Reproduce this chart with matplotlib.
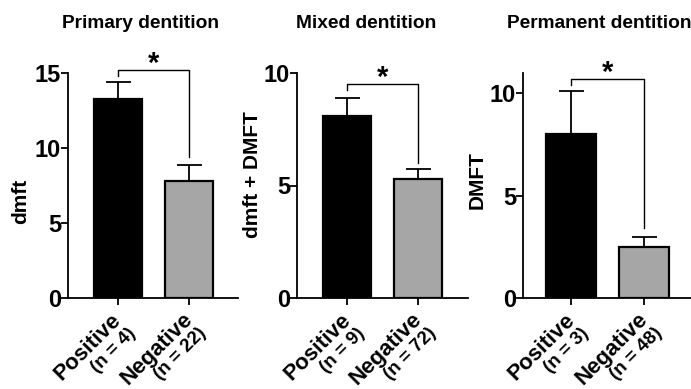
import numpy as np
import matplotlib
matplotlib.use('Agg')
import matplotlib.pyplot as plt
import matplotlib.transforms as mtransforms

plt.rcParams['font.family'] = ['Liberation Sans', 'DejaVu Sans']
plt.rcParams['font.weight'] = 'bold'

titles = ['Primary dentition', 'Mixed dentition', 'Permanent dentition']
ylabels = ['dmft', 'dmft + DMFT', 'DMFT']
groups = ['Positive', 'Negative']
n_pos = [4, 9, 3]
n_neg = [22, 72, 48]
means = [[13.3, 7.8], [8.1, 5.3], [8.0, 2.5]]
sems = [[1.1, 1.1], [0.8, 0.45], [2.1, 0.5]]
ymax = [15, 10, 11]
yticks = [[0, 5, 10, 15], [0, 5, 10], [0, 5, 10]]
# significance bracket: height, left leg end, right leg end
brackets = [[15.2, 14.8, 9.4], [9.5, 9.25, 6.0], [10.7, 10.4, 3.4]]

W, H = 691, 389
fig = plt.figure(figsize=(W / 100, H / 100), dpi=100)

# axes boxes in pixels (left, right), same vertical extent
boxes = [(68, 238), (297, 468), (523, 691)]
xlims = [(-0.70, 1.69), (-0.70, 1.70), (-0.66, 1.64)]
title_x = [140, 366, 599]
ylabel_pos = [(21, 201), (252, 175), (477, 180)]
bottom_px, top_px = 298, 73

for i in range(3):
    l, r = boxes[i]
    ax = fig.add_axes([l / W, 1 - bottom_px / H, (r - l) / W, (bottom_px - top_px) / H])
    x = np.arange(2)
    ax.bar(x, means[i], width=0.68, color=['black', '#a6a6a6'],
           edgecolor='black', linewidth=1.6, zorder=2)
    ax.errorbar(x, means[i], yerr=[[0, 0], sems[i]], fmt='none',
                ecolor='black', elinewidth=1.3, capsize=9, capthick=1.3, zorder=1)
    ax.set_xlim(*xlims[i])
    ax.set_ylim(0, ymax[i])
    ax.set_yticks(yticks[i])
    ax.tick_params(axis='y', labelsize=17, width=1.3, length=5, pad=0)
    ax.tick_params(axis='x', width=1.3, length=5)
    ax.set_xticks(x)
    ax.set_xticklabels([])
    for s in ['top', 'right']:
        ax.spines[s].set_visible(False)
    for s in ['left', 'bottom']:
        ax.spines[s].set_linewidth(1.3)

    # bracket + star
    bh, b0, b1 = brackets[i]
    ax.plot([0, 0, 1, 1], [b0, bh, bh, b1], color='black', lw=1.0,
            clip_on=False, zorder=3)
    tstar = ax.transData + mtransforms.ScaledTranslation(0, -5.5 / 72, fig.dpi_scale_trans)
    ax.text(0.5, bh, '*', ha='center', va='bottom', fontsize=21,
            fontweight='bold', clip_on=False, transform=tstar)

    # rotated two-line tick labels
    trans = mtransforms.blended_transform_factory(ax.transData, ax.transAxes)
    labs = [(groups[0], n_pos[i]), (groups[1], n_neg[i])]
    for j, (g, n) in enumerate(labs):
        t1 = trans + mtransforms.ScaledTranslation(-5 / 72, -8 / 72, fig.dpi_scale_trans)
        ax.text(j, 0, g, rotation=45, rotation_mode='anchor', ha='right',
                va='top', fontsize=16, fontweight='bold', transform=t1)
        t2 = trans + mtransforms.ScaledTranslation(6.5 / 72, -19 / 72, fig.dpi_scale_trans)
        ax.text(j, 0, '(n = %d)' % n, rotation=45, rotation_mode='anchor',
                ha='right', va='top', fontsize=13.5, fontweight='bold', transform=t2)

    fig.text(title_x[i] / W, 1 - 28 / H, titles[i], ha='center', va='baseline',
             fontsize=13.8, fontweight='bold')
    yx, yy = ylabel_pos[i]
    fig.text(yx / W, 1 - yy / H, ylabels[i], rotation=90, ha='center',
             va='center', fontsize=15, fontweight='bold')

plt.savefig('out.png', dpi=100)
